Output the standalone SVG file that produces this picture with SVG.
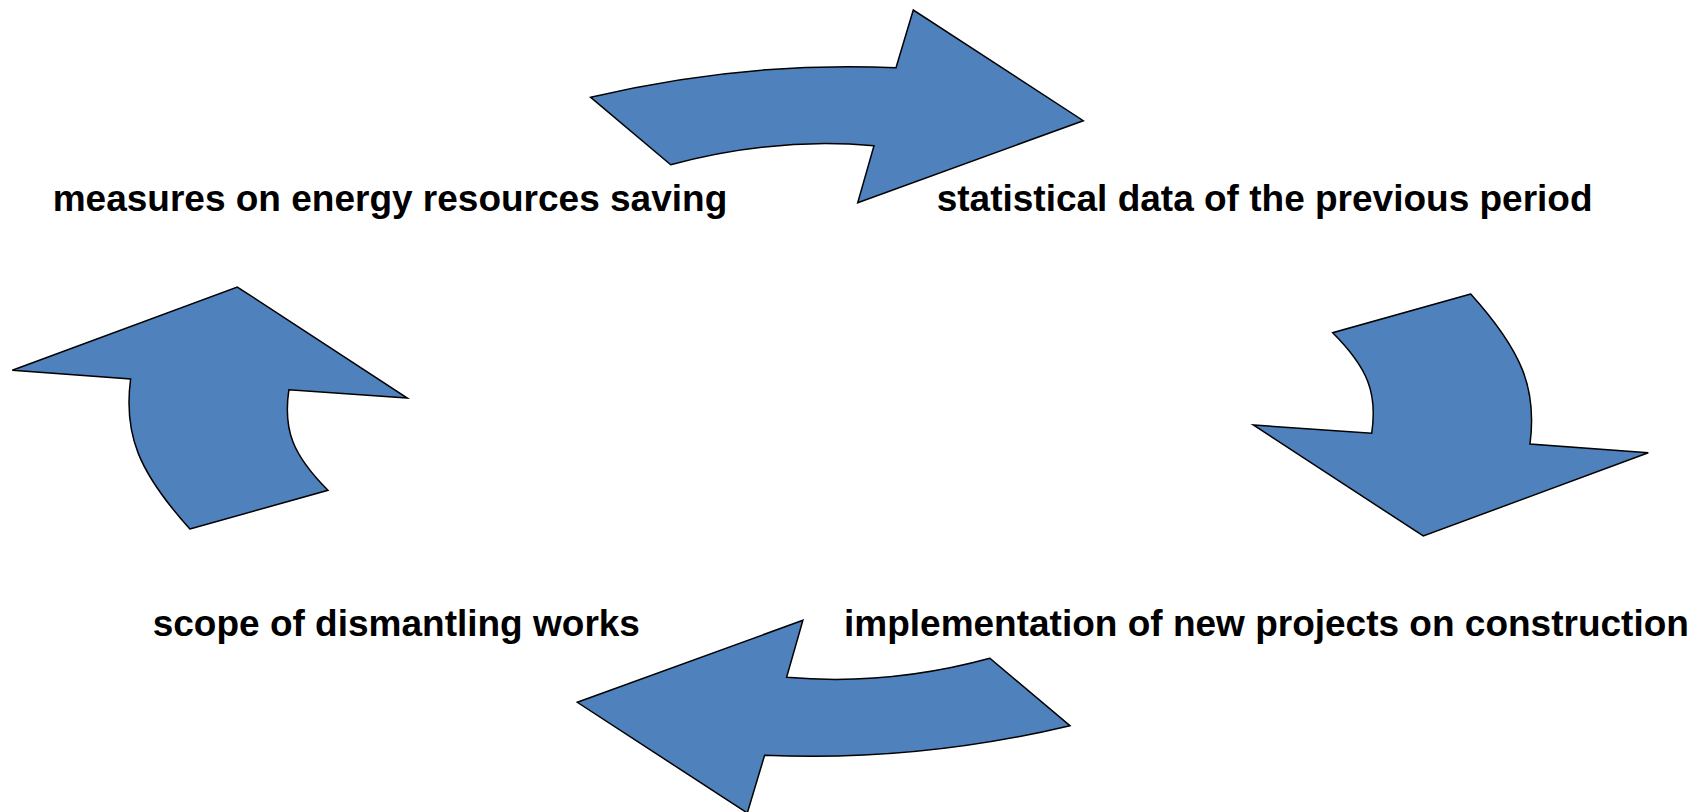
<svg xmlns="http://www.w3.org/2000/svg" width="1706" height="812" viewBox="0 0 1706 812">
  <style>
    .lbl { font-family: "Liberation Sans", Arial, sans-serif; font-weight: bold; font-size: 37px; fill: #000000; }
    .arrow { fill: #4F81BD; stroke: #000000; stroke-width: 1.5; stroke-linejoin: miter; }
  </style>
  <defs>
    <path id="arrowTop" d="M 590.7 97.3 Q 743 61 896 67.7 L 913.3 10 L 1083.3 120.7 L 857.7 202.7 L 874 145.7 Q 772 137 670.7 164.7 Z"/>
    <path id="arrowRight" d="M 1470.7 294 L 1332.7 332.7 C 1368 368 1377.7 393.1 1371.7 433.3 L 1253.3 425 L 1423.3 536 L 1648.3 452.7 L 1530 444 C 1537.2 388.9 1522.4 351.4 1470.7 294 Z"/>
  </defs>
  <rect x="0" y="0" width="1706" height="812" fill="#ffffff"/>
  <g id="connectors">
    <use href="#arrowTop" class="arrow"/>
    <use href="#arrowRight" class="arrow"/>
    <use href="#arrowTop" class="arrow" transform="rotate(180 830.3 411.5)"/>
    <use href="#arrowRight" class="arrow" transform="rotate(180 830.3 411.5)"/>
  </g>
  <g id="node-measures">
    <text class="lbl" x="52.7" y="211">measures on energy resources saving</text>
  </g>
  <g id="node-statistical">
    <text class="lbl" x="936.7" y="211">statistical data of the previous period</text>
  </g>
  <g id="node-implementation">
    <text class="lbl" x="844" y="636">implementation of new projects on construction</text>
  </g>
  <g id="node-scope">
    <text class="lbl" x="152.7" y="636">scope of dismantling works</text>
  </g>
</svg>
